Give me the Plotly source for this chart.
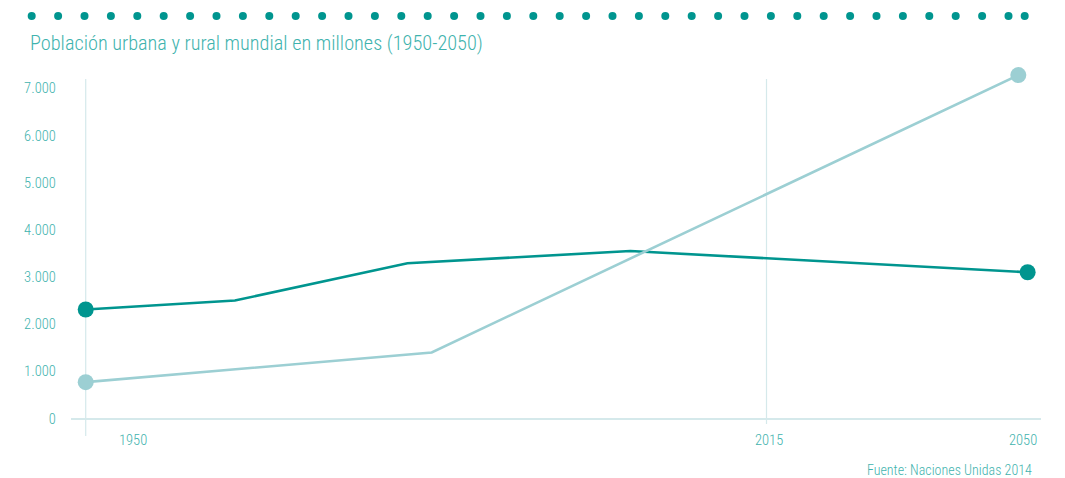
import plotly.graph_objects as go

# World urban and rural population, millions (UN, 2014 revision)
# Horizontal position along the timeline: 0 = 1950, 100 = 2050
urban_t = [0, 37.1, 100]
urban_pop = [770, 1400, 7280]

rural_t = [0, 16.0, 34.5, 58.4, 101.0]
rural_pop = [2310, 2500, 3290, 3550, 3100]

y_ticks = [0, 1000, 2000, 3000, 4000, 5000, 6000, 7000]
x_tick_labels = ["1950", "2015", "2050"]
x_tick_t = [0, 73.0, 100]

title_text = "Población urbana y rural mundial en millones (1950-2050)"
source_text = "Fuente: Naciones Unidas 2014"

DARK = "#00958f"
LIGHT = "#9ccfd3"
TEXT = "#3fb3ae"
RULE = "#d5e9eb"
FONT = "Roboto Condensed, Liberation Sans Narrow, sans-serif"

W, H = 1065, 478
RULE_TOP = 7197  # upper end of the vertical rules


def end_sizes(n, s=16):
    return [s] + [0] * (n - 2) + [s]


fig = go.Figure()

fig.add_trace(go.Scatter(
    x=rural_t, y=rural_pop, mode="lines+markers", name="Rural",
    line=dict(color=DARK, width=2.6),
    marker=dict(color=DARK, size=end_sizes(len(rural_t)), opacity=1, line=dict(width=0)),
    cliponaxis=False, hoverinfo="y",
))
fig.add_trace(go.Scatter(
    x=urban_t, y=urban_pop, mode="lines+markers", name="Urbana",
    line=dict(color=LIGHT, width=2.6),
    marker=dict(color=LIGHT, size=end_sizes(len(urban_t)), opacity=1, line=dict(width=0)),
    cliponaxis=False, hoverinfo="y",
))

# vertical reference rules at 1950 and 2015
shapes = [
    dict(type="line", xref="x", yref="y", x0=x_tick_t[0], x1=x_tick_t[0],
         y0=-371, y1=RULE_TOP, line=dict(color=RULE, width=1.2), layer="below"),
    dict(type="line", xref="x", yref="y", x0=x_tick_t[1], x1=x_tick_t[1],
         y0=-117, y1=RULE_TOP, line=dict(color=RULE, width=1.2), layer="below"),
]

# dotted header strip
r = 4.0
cy = 16.0
centers = [31.7 + 26.4 * i for i in range(38)] + [1024.7]
for cx in centers:
    shapes.append(dict(
        type="circle", xref="paper", yref="paper",
        x0=(cx - r) / W, x1=(cx + r) / W,
        y0=1 - (cy + r) / H, y1=1 - (cy - r) / H,
        fillcolor=DARK, line=dict(width=0),
    ))

label_font = dict(family=FONT, size=14.5, color=TEXT, weight=300)

annotations = [
    dict(text=title_text, xref="paper", yref="paper",
         x=27.5 / W, y=1 - 43 / H, xanchor="left", yanchor="middle",
         showarrow=False, font=dict(family=FONT, size=20.3, color=TEXT, weight=300)),
    dict(text=source_text, xref="paper", yref="paper",
         x=1033.5 / W, y=1 - 470 / H, xanchor="right", yanchor="middle",
         showarrow=False, font=dict(family=FONT, size=14, color=TEXT, weight=300)),
    dict(text=x_tick_labels[0], xref="x", yref="y", x=x_tick_t[0], y=0,
         xanchor="left", yanchor="middle", xshift=31.5, yshift=-21.5,
         showarrow=False, font=label_font),
    dict(text=x_tick_labels[1], xref="x", yref="y", x=x_tick_t[1], y=0,
         xanchor="center", yanchor="middle", xshift=2, yshift=-21.5,
         showarrow=False, font=label_font),
    dict(text=x_tick_labels[2], xref="x", yref="y", x=x_tick_t[2], y=0,
         xanchor="right", yanchor="middle", xshift=20.5, yshift=-21.5,
         showarrow=False, font=label_font),
]

fig.update_layout(
    width=W, height=H, autosize=False,
    margin=dict(l=0, r=0, t=0, b=0, pad=0),
    paper_bgcolor="white", plot_bgcolor="white",
    showlegend=False,
    separators=",.",
    font=dict(family=FONT, color=TEXT),
    shapes=shapes,
    annotations=annotations,
    xaxis=dict(
        domain=[70.7 / W, 1040.7 / W],
        range=[-1.61, 102.4],
        showgrid=False, zeroline=False, showline=False,
        showticklabels=False, ticks="", fixedrange=True,
    ),
    yaxis=dict(
        domain=[(H - 436) / H, (H - 62) / H],
        range=[-371, 7557],
        tickvals=y_ticks, tickformat=",d",
        ticks="outside", ticklen=11, tickcolor="rgba(0,0,0,0)",
        tickfont=label_font,
        showgrid=False, showline=False,
        zeroline=True, zerolinecolor=RULE, zerolinewidth=1.5,
        fixedrange=True,
    ),
)

fig.write_html("out.html")
